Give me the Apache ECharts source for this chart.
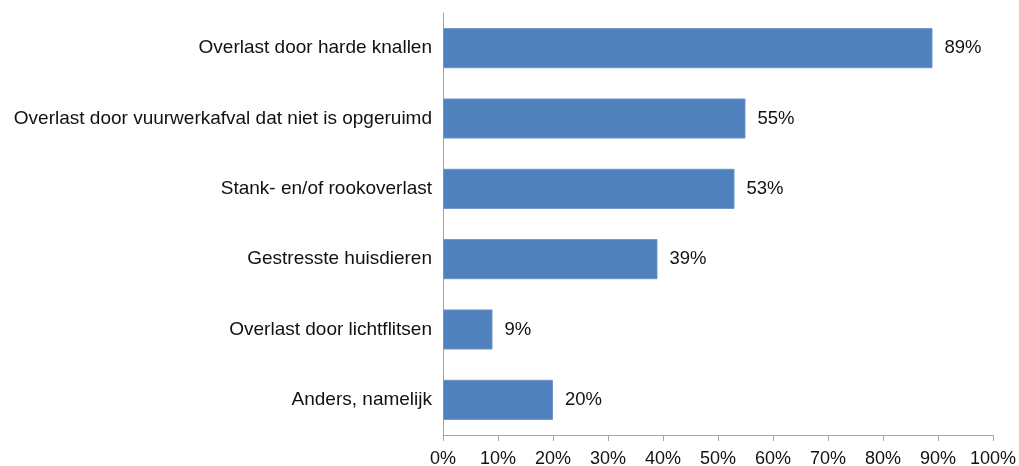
<!DOCTYPE html>
<html>
<head>
<meta charset="utf-8">
<script src="https://cdn.jsdelivr.net/npm/echarts@6/dist/echarts.min.js"></script>
<style>
  html, body { margin: 0; padding: 0; background: #fff; }
  #chart { width: 1019px; height: 466px; }
</style>
</head>
<body>
<div id="chart"></div>
<script>
const categories = [
  'Overlast door harde knallen',
  'Overlast door vuurwerkafval dat niet is opgeruimd',
  'Stank- en/of rookoverlast',
  'Gestresste huisdieren',
  'Overlast door lichtflitsen',
  'Anders, namelijk'
];
const values = [89, 55, 53, 39, 9, 20];

const chart = echarts.init(document.getElementById('chart'));
const option = {
  animation: false,
  textStyle: { fontFamily: 'Liberation Sans, Arial, sans-serif' },
  grid: {
    left: 443,
    right: 26,
    top: 13,
    bottom: 31,
    containLabel: false,
    outerBoundsMode: 'none'
  },
  xAxis: {
    type: 'value',
    min: 0,
    max: 100,
    interval: 10,
    axisLine: { show: true, lineStyle: { color: '#a6a6a6', width: 1 } },
    axisTick: { show: true, length: 6, lineStyle: { color: '#a6a6a6' } },
    splitLine: { show: false },
    axisLabel: {
      formatter: '{value}%',
      color: '#111',
      fontSize: 18,
      margin: 15
    }
  },
  yAxis: {
    type: 'category',
    inverse: true,
    data: categories,
    axisLine: { show: true, lineStyle: { color: '#a6a6a6', width: 1 } },
    axisTick: { show: false },
    axisLabel: {
      color: '#111',
      fontSize: 19,
      margin: 11,
      padding: [4, 0, 0, 0]
    }
  },
  series: [
    {
      type: 'bar',
      data: values,
      barCategoryGap: '43%',
      itemStyle: {
        color: '#4f81bd',
        borderColor: '#6d95c8',
        borderWidth: 1
      },
      label: {
        show: true,
        position: 'right',
        distance: 12,
        formatter: '{c}%',
        color: '#111',
        fontSize: 18.5,
        padding: [4, 0, 0, 0]
      }
    }
  ]
};
chart.setOption(option);
</script>
</body>
</html>
